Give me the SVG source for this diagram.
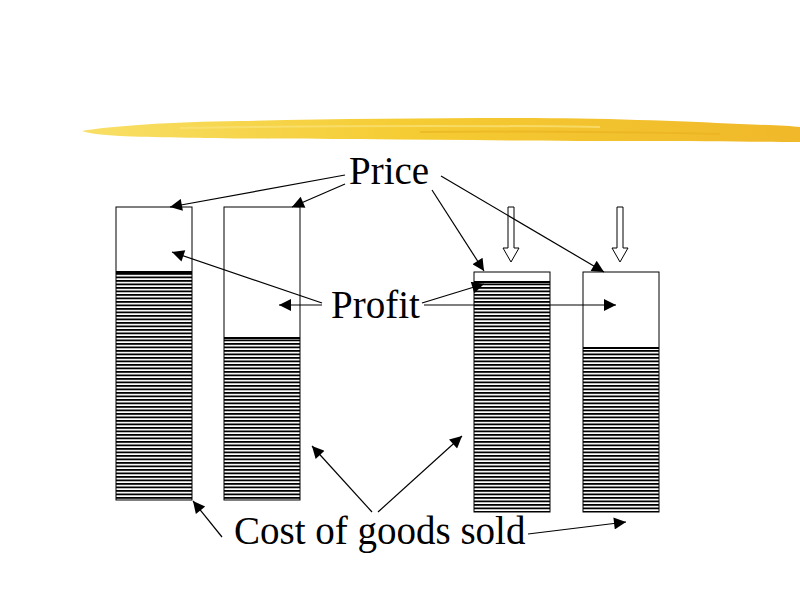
<svg xmlns="http://www.w3.org/2000/svg" width="800" height="600" viewBox="0 0 800 600">
<defs>
<style>
.bar{fill:none;stroke:#000;stroke-width:1}
.top{fill:#fff}
.hat{fill:url(#hatch)}
.edge{stroke:#000;stroke-width:2}
.lbl{font-family:"Liberation Serif","Times New Roman",serif;font-size:39px;fill:#000}
.con line{stroke:#000;stroke-width:1.2;marker-end:url(#ah)}
.hol{fill:#fff;stroke:#000;stroke-width:1}
</style>
<pattern id="hatch" patternUnits="userSpaceOnUse" width="8" height="3.5">
<rect width="8" height="3.5" fill="#fff"/>
<rect y="0" width="8" height="1.8" fill="#000"/>
</pattern>
<marker id="ah" viewBox="0 0 10 10" refX="10" refY="5" markerWidth="14" markerHeight="12" markerUnits="userSpaceOnUse" orient="auto">
<path d="M0,0 L10,5 L0,10 z" fill="#000"/>
</marker>
<linearGradient id="gold" x1="0" x2="1" y1="0" y2="0">
<stop offset="0" stop-color="#f8df66"/>
<stop offset="0.45" stop-color="#f5cc33"/>
<stop offset="1" stop-color="#f0b82a"/>
</linearGradient>
</defs>
<rect width="800" height="600" fill="#fff"/>
<g id="brush">
<path d="M82,131 C110,126 170,122 240,121 C330,119 430,118 520,118 C600,118 680,121 740,124 C770,125 790,126 800,127 L800,142 C760,142 700,141 640,141 C560,141 460,140 360,139 C260,139 170,138 120,136 C100,135 88,133 82,131 Z" fill="url(#gold)"/>
<path d="M180,128 C300,126 450,125 600,127" stroke="#f9e27a" stroke-width="2" fill="none" opacity="0.7"/>
<path d="M420,132 C520,131 620,132 720,134" stroke="#eab01e" stroke-width="2" fill="none" opacity="0.6"/>
</g>
<g id="bar1">
<rect x="116" y="207" width="76" height="65" class="top"/>
<rect x="116" y="272" width="76" height="228" class="hat"/>
<line x1="116" y1="272" x2="192" y2="272" class="edge"/>
<rect x="116" y="207" width="76" height="293" class="bar"/>
</g>
<g id="bar2">
<rect x="224" y="207" width="76" height="131" class="top"/>
<rect x="224" y="338" width="76" height="162" class="hat"/>
<line x1="224" y1="338" x2="300" y2="338" class="edge"/>
<rect x="224" y="207" width="76" height="293" class="bar"/>
</g>
<g id="bar3">
<rect x="474" y="272" width="76" height="10" class="top"/>
<rect x="474" y="282" width="76" height="230" class="hat"/>
<line x1="474" y1="282" x2="550" y2="282" class="edge"/>
<rect x="474" y="272" width="76" height="240" class="bar"/>
</g>
<g id="bar4">
<rect x="583" y="272" width="76" height="76" class="top"/>
<rect x="583" y="348" width="76" height="164" class="hat"/>
<line x1="583" y1="348" x2="659" y2="348" class="edge"/>
<rect x="583" y="272" width="76" height="240" class="bar"/>
</g>
<g id="down1"><path class="hol" d="M508,207 L514,207 L514,248 L519,248 L511,262 L503,248 L508,248 Z"/></g>
<g id="down2"><path class="hol" d="M617,207 L623,207 L623,248 L628,248 L620,262 L612,248 L617,248 Z"/></g>
<g id="price"><text class="lbl" x="349" y="184">Price</text></g>
<g id="profit"><text class="lbl" x="331" y="318">Profit</text></g>
<g id="cogs"><text class="lbl" x="234" y="544">Cost of goods sold</text></g>
<g id="connectors" class="con">
<line x1="345" y1="175" x2="170" y2="207"/>
<line x1="345" y1="184" x2="292" y2="207"/>
<line x1="432" y1="190" x2="484" y2="271"/>
<line x1="441" y1="176" x2="604" y2="272"/>
<line x1="322" y1="303" x2="172" y2="252"/>
<line x1="322" y1="305" x2="279" y2="305"/>
<line x1="422" y1="303" x2="484" y2="284"/>
<line x1="424" y1="305" x2="616" y2="305"/>
<line x1="222" y1="537" x2="193" y2="501"/>
<line x1="372" y1="512" x2="312" y2="446"/>
<line x1="378" y1="512" x2="462" y2="436"/>
<line x1="528" y1="534" x2="626" y2="522"/>
</g>
</svg>
